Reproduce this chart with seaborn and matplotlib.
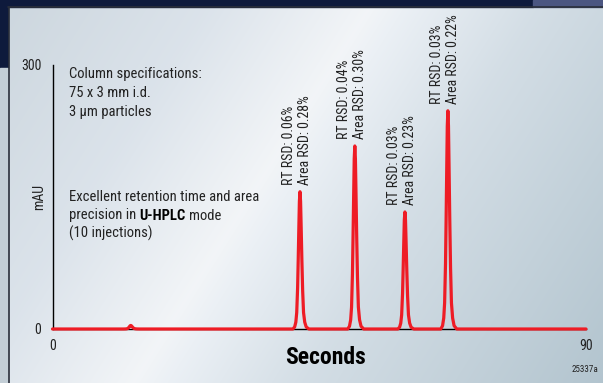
import numpy as np
import pandas as pd
import matplotlib
matplotlib.use("Agg")
import matplotlib.pyplot as plt
from matplotlib import font_manager
import seaborn as sns

# retention times (s) and peak heights (mAU)
peak_times = [13.2, 41.75, 51.0, 59.45, 66.7]
peak_heights = [4, 156, 208, 133, 248]
# common peak profile: offset from apex (s) and fraction of apex height
profile_offset = [-1.2, -0.9, -0.7, -0.55, -0.4, -0.3, -0.2, -0.1, 0.0,
                  0.1, 0.2, 0.32, 0.45, 0.6, 0.8, 1.05, 1.5]
profile_frac = [0.0, 0.015, 0.05, 0.12, 0.3, 0.5, 0.72, 0.93, 1.0,
                0.93, 0.74, 0.5, 0.28, 0.12, 0.05, 0.015, 0.0]
run_start, run_end = 0, 90

rt_rsd = ["0.06%", "0.04%", "0.03%", "0.03%"]
area_rsd = ["0.28%", "0.30%", "0.23%", "0.22%"]

W, H = 603, 383
RED = "#ee1c25"

# pick a condensed face if one is installed
names = sorted({f.name for f in font_manager.fontManager.ttflist})
narrow = [n for n in ["Roboto Condensed", "Liberation Sans Narrow",
                      "DejaVu Sans Condensed", "Open Sans Condensed"] if n in names]
narrow += [n for n in names if ("Condensed" in n or "Narrow" in n) and n not in narrow]
FACE = narrow[0] if narrow else "Liberation Sans"
FAM = [FACE, "DejaVu Sans"]
k = 1.0 if narrow else 0.88  # shrink a bit if only a normal width face exists

sns.set_theme(style="white")
plt.rcParams["font.family"] = FAM

def fx(x):
    return x / W

def fy(y):
    return 1 - y / H

# build the trace
t = [run_start]
s = [0.0]
for rt, h in zip(peak_times, peak_heights):
    for o, f in zip(profile_offset, profile_frac):
        t.append(rt + o)
        s.append(h * f)
t.append(run_end)
s.append(0.0)
trace = pd.DataFrame({"time": t, "signal": s})

fig = plt.figure(figsize=(W / 100, H / 100), dpi=100)

# background panel
bg = fig.add_axes([0, 0, 1, 1])
bg.set_xlim(0, W)
bg.set_ylim(H, 0)
bg.axis("off")
yy, xx = np.mgrid[0:H, 0:W]
u = xx / W + 0.4 * (yy / H)
stops = [0.0, 0.35, 0.62, 0.68, 0.9, 1.4]
cols = np.array([[0.80, 0.84, 0.87], [0.86, 0.89, 0.92], [0.95, 0.96, 0.97],
                 [0.92, 0.94, 0.96], [0.83, 0.87, 0.90], [0.70, 0.77, 0.81]])
img = np.dstack([np.interp(u, stops, cols[:, i]) for i in range(3)])
bg.imshow(img, extent=(0, W, H, 0), aspect="auto", zorder=0)
bg.add_patch(plt.Rectangle((0, 0), 533, 6.5, color="#0e1a3c", zorder=1))
bg.add_patch(plt.Rectangle((533, 0), 70, 6.5, color="#4b5681", zorder=1))
bg.add_patch(plt.Rectangle((0, 0), 8, 68, color="#0e1a3c", zorder=1))
bg.add_patch(plt.Rectangle((0, 68), 8, H - 68, color="#c3ced6", zorder=1))
bg.plot([8.5, 8.5], [6.5, H], color="#2a2f3a", lw=1.2, zorder=2)
bg.plot([8, W], [7, 7], color="#2a2f3a", lw=1.2, zorder=2)

# chromatogram axes
x0, x1, y0, y1 = 52.5, 586, 329, 65
ax = fig.add_axes([fx(x0), fy(y0), (x1 - x0) / W, (y0 - y1) / H])
ax.patch.set_alpha(0)
sns.lineplot(data=trace, x="time", y="signal", estimator=None, sort=False,
             color=RED, lw=2.3, ax=ax)
ax.lines[-1].set_clip_on(False)
ax.lines[-1].set_zorder(5)
ax.set_xlim(run_start, run_end)
ax.set_ylim(0, 300)
for side in ["top", "right"]:
    ax.spines[side].set_visible(False)
for side in ["left", "bottom"]:
    ax.spines[side].set_color("black")
    ax.spines[side].set_linewidth(1.0)
ax.set_xticks([run_start, run_end])
ax.set_yticks([0, 300])
ax.tick_params(axis="both", direction="out", length=4, width=1.0, color="black",
               labelsize=10 * k, labelcolor="#222222")
ax.tick_params(axis="y", pad=4)
ax.tick_params(axis="x", pad=3)
ax.set_xlabel("")
ax.set_ylabel("")

# peak annotations
for rt, h, a, b in zip(peak_times[1:], peak_heights[1:], rt_rsd, area_rsd):
    ax.annotate(f"RT RSD: {a}\nArea RSD: {b}", xy=(rt, h), xytext=(-3, 7),
                textcoords="offset pixels", rotation=90, ha="center", va="bottom",
                multialignment="left", fontsize=10 * k, color="#222222",
                linespacing=1.2)

fig.text(fx(39), fy(197), "mAU", rotation=90, ha="center", va="center",
         fontsize=10 * k, color="#222222")
fig.text(fx(326), fy(357), "Seconds", ha="center", va="center",
         fontsize=17 * k, fontweight="bold", color="black")
fig.text(fx(598), fy(369), "25337a", ha="right", va="center", fontsize=6.5 * k,
         color="#222222")

left = 69
fs = 10.5 * k
for yb, line in zip([78, 97, 116],
                    ["Column specifications:", "75 x 3 mm i.d.", "3 µm particles"]):
    fig.text(fx(left), fy(yb), line, ha="left", va="baseline", fontsize=fs,
             color="#222222")

fig.text(fx(left), fy(201), "Excellent retention time and area", ha="left",
         va="baseline", fontsize=fs, color="#222222")
fig.text(fx(left), fy(238), "(10 injections)", ha="left", va="baseline",
         fontsize=fs, color="#222222")

fig.canvas.draw()
r = fig.canvas.get_renderer()
p1 = fig.text(fx(left), fy(219.5), "precision in", ha="left", va="baseline",
              fontsize=fs, color="#222222")
xb = p1.get_window_extent(r).x1 + 3
p2 = fig.text(xb / W, fy(219.5), "U-HPLC", ha="left", va="baseline",
              fontsize=fs, fontweight="bold", color="black")
xb = p2.get_window_extent(r).x1 + 3
fig.text(xb / W, fy(219.5), "mode", ha="left", va="baseline",
         fontsize=fs, color="#222222")

fig.savefig("out.png", dpi=100)
